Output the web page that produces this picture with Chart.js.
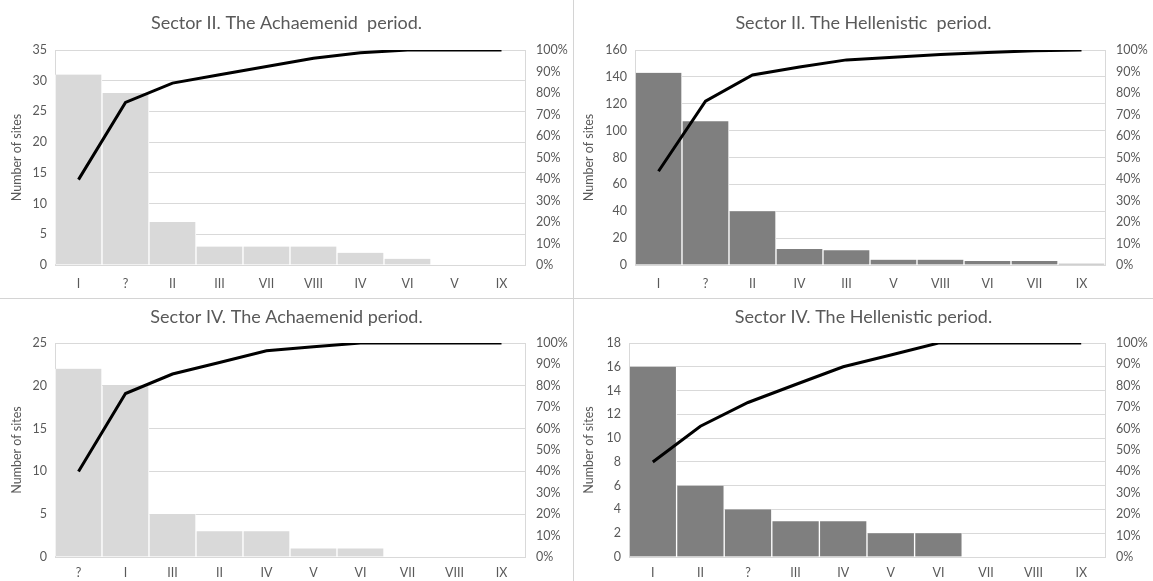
<!DOCTYPE html>
<html>
<head>
    <meta charset="UTF-8">
    <title>Sectors</title>
    <script src="https://cdn.jsdelivr.net/npm/chart.js@4/dist/chart.umd.min.js"></script>
    <style>
        body { margin: 0; background: #fff; }
        .panel { position: absolute; }
        .vline { position: absolute; left: 573px; top: 0; width: 1px; height: 581px; background: #d4d4d4; }
        .hline { position: absolute; left: 0; top: 298px; width: 1153px; height: 1px; background: #d4d4d4; }
    </style>
    <script type="text/javascript">
        /* Sector II, Achaemenid */
        var s2aLabels = ['I', '?', 'II', 'III', 'VII', 'VIII', 'IV', 'VI', 'V', 'IX'];
        var s2aSites = [31, 28, 7, 3, 3, 3, 2, 1, 0, 0];
        var s2aCum = [39.7, 75.6, 84.6, 88.5, 92.3, 96.2, 98.7, 100, 100, 100];

        /* Sector II, Hellenistic */
        var s2hLabels = ['I', '?', 'II', 'IV', 'III', 'V', 'VIII', 'VI', 'VII', 'IX'];
        var s2hSites = [143, 107, 40, 12, 11, 4, 4, 3, 3, 1];
        var s2hCum = [43.6, 76.2, 88.4, 92.1, 95.4, 96.6, 97.9, 98.8, 99.7, 100];

        /* Sector IV, Achaemenid */
        var s4aLabels = ['?', 'I', 'III', 'II', 'IV', 'V', 'VI', 'VII', 'VIII', 'IX'];
        var s4aSites = [22, 20, 5, 3, 3, 1, 1, 0, 0, 0];
        var s4aCum = [40.0, 76.4, 85.5, 90.9, 96.4, 98.2, 100, 100, 100, 100];

        /* Sector IV, Hellenistic */
        var s4hLabels = ['I', 'II', '?', 'III', 'IV', 'V', 'VI', 'VII', 'VIII', 'IX'];
        var s4hSites = [16, 6, 4, 3, 3, 2, 2, 0, 0, 0];
        var s4hCum = [44.4, 61.1, 72.2, 80.6, 88.9, 94.4, 100, 100, 100, 100];

        var textColor = '#595959';
        var gridColor = '#d9d9d9';
        var fontFamily = 'Lato, "Open Sans", sans-serif';

        function makeChart(id, title, labels, sites, cum, yMax, yStep, barColor, box) {
            var config = {
                type: 'bar',
                data: {
                    labels: labels,
                    datasets: [{
                        type: 'line',
                        data: cum,
                        yAxisID: 'y1',
                        borderColor: '#000',
                        borderWidth: 3,
                        pointRadius: 0,
                        tension: 0,
                        fill: false,
                        order: 0
                    }, {
                        type: 'bar',
                        data: sites,
                        yAxisID: 'y',
                        backgroundColor: barColor,
                        borderColor: '#fff',
                        borderWidth: {top: 0, left: 1, right: 1, bottom: 0},
                        barPercentage: 1,
                        categoryPercentage: 1,
                        order: 1
                    }]
                },
                options: {
                    responsive: false,
                    animation: false,
                    layout: {padding: 0},
                    plugins: {
                        legend: {display: false},
                        tooltip: {enabled: false},
                        title: {
                            display: true,
                            text: title,
                            color: textColor,
                            font: {family: fontFamily, size: 18, weight: 'normal', lineHeight: '20px'},
                            padding: {top: box.titleTop, bottom: box.top - box.titleTop - 20}
                        }
                    },
                    scales: {
                        x: {
                            grid: {display: false, drawTicks: false},
                            border: {display: false},
                            ticks: {color: textColor, font: {family: fontFamily, size: 12.5}, padding: box.xPad, maxRotation: 0},
                            afterFit: function (scale) { scale.height = box.bottom; }
                        },
                        y: {
                            position: 'left',
                            min: 0,
                            max: yMax,
                            ticks: {stepSize: yStep, color: textColor, font: {family: fontFamily, size: 12.5}, padding: 8},
                            grid: {color: gridColor, drawTicks: false},
                            border: {display: true, color: gridColor},
                            title: {
                                display: true,
                                text: 'Number of sites',
                                color: textColor,
                                font: {family: fontFamily, size: 12.5},
                                padding: {top: box.titlePad, bottom: 0}
                            },
                            afterFit: function (scale) { scale.width = box.left; }
                        },
                        y1: {
                            position: 'right',
                            min: 0,
                            max: 100,
                            ticks: {
                                stepSize: 10,
                                color: textColor,
                                font: {family: fontFamily, size: 12.5},
                                padding: 11,
                                callback: function (v) { return v + '%'; }
                            },
                            grid: {drawOnChartArea: false, drawTicks: false},
                            border: {display: true, color: gridColor},
                            afterFit: function (scale) { scale.width = box.right; }
                        }
                    }
                }
            };
            return new Chart(document.getElementById(id), config);
        }

        window.onload = function () {
            makeChart('c1', 'Sector II. The Achaemenid  period.', s2aLabels, s2aSites, s2aCum, 35, 5, '#d9d9d9',
                {left: 55, right: 48, top: 50, titleTop: 13, bottom: 33, titlePad: 9, xPad: 11});
            makeChart('c2', 'Sector II. The Hellenistic  period.', s2hLabels, s2hSites, s2hCum, 160, 20, '#7f7f7f',
                {left: 61, right: 48, top: 50, titleTop: 13, bottom: 33, titlePad: 7, xPad: 11});
            makeChart('c3', 'Sector IV. The Achaemenid period.', s4aLabels, s4aSites, s4aCum, 25, 5, '#d9d9d9',
                {left: 55, right: 48, top: 44, titleTop: 8, bottom: 24, titlePad: 9, xPad: 8});
            makeChart('c4', 'Sector IV. The Hellenistic period.', s4hLabels, s4hSites, s4hCum, 18, 2, '#7f7f7f',
                {left: 55, right: 48, top: 44, titleTop: 8, bottom: 24, titlePad: 7, xPad: 8});
        };
    </script>
</head>
<body>
<div class="panel" style="left:0;top:0;"><canvas id="c1" width="573" height="298"></canvas></div>
<div class="panel" style="left:574px;top:0;"><canvas id="c2" width="579" height="298"></canvas></div>
<div class="panel" style="left:0;top:299px;"><canvas id="c3" width="573" height="282"></canvas></div>
<div class="panel" style="left:574px;top:299px;"><canvas id="c4" width="579" height="282"></canvas></div>
<div class="vline"></div>
<div class="hline"></div>
</body>
</html>
